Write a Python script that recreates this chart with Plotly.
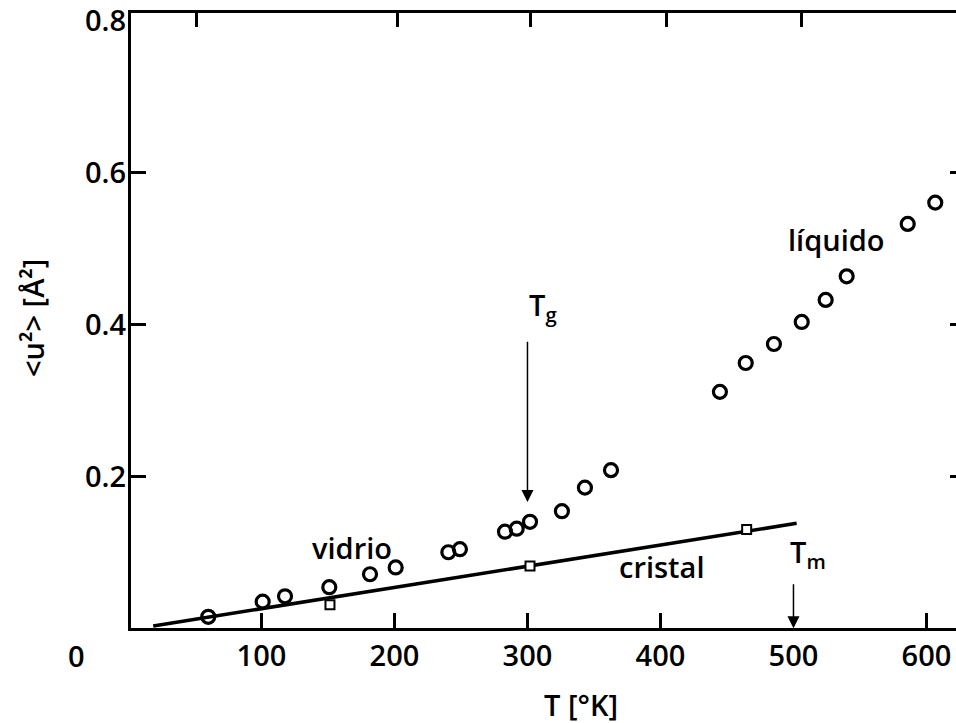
import plotly.graph_objects as go

# ---------------- data ----------------
T_amorfo = [60.0, 100.9, 117.7, 151.0, 181.6, 200.9, 240.5, 249.2, 283.1, 291.9,
            301.9, 325.9, 343.2, 362.8, 444.7, 464.1, 485.3, 506.2, 524.2, 540.0,
            585.9, 606.6]
u2_amorfo = [0.016, 0.036, 0.043, 0.055, 0.072, 0.081, 0.101, 0.105, 0.128, 0.132,
             0.141, 0.155, 0.186, 0.209, 0.312, 0.350, 0.375, 0.404, 0.433, 0.464,
             0.533, 0.561]

T_cristal = [151.5, 301.9, 464.8]
u2_cristal = [0.032, 0.083, 0.131]

T_ajuste = [18.6, 502.4]
u2_ajuste = [0.004, 0.139]

T_g = 300
T_m = 500

x_ticks = [100, 200, 300, 400, 500, 600]
x_tick_marks = [100, 200, 300, 400, 600]
x_top_marks = [51.5, 201.9, 301.9, 404.9, 506.4]
y_ticks = [0.2, 0.4, 0.6, 0.8]
y_tick_marks = [0.2, 0.4, 0.6]

X_RANGE = [1.9, 622.2]
Y_RANGE = [0.0013, 0.8105]

FONT = "Open Sans"
FS = 29
INK = "black"

fig = go.Figure()

fig.add_trace(go.Scatter(x=T_ajuste, y=u2_ajuste, mode="lines",
                         line=dict(color=INK, width=3.5), hoverinfo="skip"))
fig.add_trace(go.Scatter(x=T_cristal, y=u2_cristal, mode="markers",
                         marker=dict(symbol="square", size=9, color="white",
                                     line=dict(color=INK, width=2)),
                         hoverinfo="skip"))
fig.add_trace(go.Scatter(x=T_amorfo, y=u2_amorfo, mode="markers",
                         marker=dict(symbol="circle", size=13, color="rgba(0,0,0,0)",
                                     line=dict(color=INK, width=3.2)),
                         hoverinfo="skip"))
# empty traces so the decorative overlay axes are drawn
for xa, ya in [("x2", "y"), ("x3", "y"), ("x", "y2"), ("x", "y3")]:
    fig.add_trace(go.Scatter(x=[], y=[], xaxis=xa, yaxis=ya, hoverinfo="skip"))

tickfont = dict(family=FONT, size=FS, color=INK, weight=600)

fig.update_layout(
    width=956, height=723,
    margin=dict(l=131, r=0, t=13, b=95, pad=0),
    paper_bgcolor="white", plot_bgcolor="white",
    showlegend=False,
    font=dict(family=FONT, size=FS, color=INK),
    xaxis=dict(range=X_RANGE, showgrid=False, zeroline=False,
               showline=True, linecolor=INK, linewidth=3,
               ticks="inside", ticklen=15, tickwidth=3, tickcolor=INK,
               tickvals=x_tick_marks, showticklabels=False),
    xaxis3=dict(range=X_RANGE, overlaying="x", side="bottom", anchor="y",
                showgrid=False, zeroline=False, showline=False,
                ticks="", tickvals=x_ticks, ticktext=[str(v) for v in x_ticks],
                tickfont=tickfont, ticklabelstandoff=8),
    xaxis2=dict(range=X_RANGE, overlaying="x", side="top", anchor="y",
                showgrid=False, zeroline=False,
                showline=True, linecolor=INK, linewidth=3,
                ticks="inside", ticklen=14, tickwidth=3, tickcolor=INK,
                tickvals=x_top_marks, showticklabels=False),
    yaxis=dict(range=Y_RANGE, showgrid=False, zeroline=False,
               showline=True, linecolor=INK, linewidth=3,
               ticks="inside", ticklen=15, tickwidth=3, tickcolor=INK,
               tickvals=y_tick_marks, showticklabels=False),
    yaxis3=dict(range=Y_RANGE, overlaying="y", side="left", anchor="x",
                showgrid=False, zeroline=False, showline=False,
                ticks="", tickvals=y_ticks, ticktext=["0.2", "0.4", "0.6", "0.8"],
                tickfont=tickfont, ticklabelstandoff=4),
    yaxis2=dict(range=Y_RANGE, overlaying="y", side="right", anchor="x",
                showgrid=False, zeroline=False, showline=False,
                ticks="inside", ticklen=6, tickwidth=3, tickcolor=INK,
                tickvals=y_tick_marks, showticklabels=False),
)

txt = dict(family=FONT, size=FS, color=INK, weight=600)

# region labels
fig.add_annotation(x=167.8, y=0.107, text="vidrio", showarrow=False, font=txt)
fig.add_annotation(x=401.1, y=0.082, text="cristal", showarrow=False, font=txt)
fig.add_annotation(x=532.3, y=0.513, text="líquido", showarrow=False, font=txt)

# Tg / Tm labels and arrows
fig.add_annotation(x=T_g, y=0.424, text="T<sub>g</sub>", showarrow=False,
                   xanchor="left", font=txt)
fig.add_annotation(x=T_g, y=0.167, ax=T_g, ay=0.380, axref="x", ayref="y",
                   text="", showarrow=True, arrowhead=2, arrowsize=1.6,
                   arrowwidth=1.5, arrowcolor=INK, standoff=0, startstandoff=0)
fig.add_annotation(x=T_m - 4, y=0.099, text="T<sub>m</sub>", showarrow=False,
                   xanchor="left", font=txt)
fig.add_annotation(x=T_m, y=0.001, ax=T_m, ay=0.061, axref="x", ayref="y",
                   text="", showarrow=True, arrowhead=2, arrowsize=1.6,
                   arrowwidth=1.5, arrowcolor=INK, standoff=0, startstandoff=0)

# axis titles and the lone origin label
fig.add_annotation(xref="paper", yref="paper", x=0.545, y=-0.1236,
                   xanchor="center", yanchor="middle",
                   text="T [°K]", showarrow=False, font=txt)
fig.add_annotation(xref="paper", yref="paper", x=-0.12, y=0.504,
                   xanchor="center", yanchor="middle",
                   text="&lt;u²&gt; [Å²]", textangle=-90, showarrow=False, font=txt)
fig.add_annotation(xref="paper", yref="paper", x=-0.066, y=-0.0455,
                   xanchor="center", yanchor="middle",
                   text="0", showarrow=False, font=txt)

fig.write_html("out.html")
